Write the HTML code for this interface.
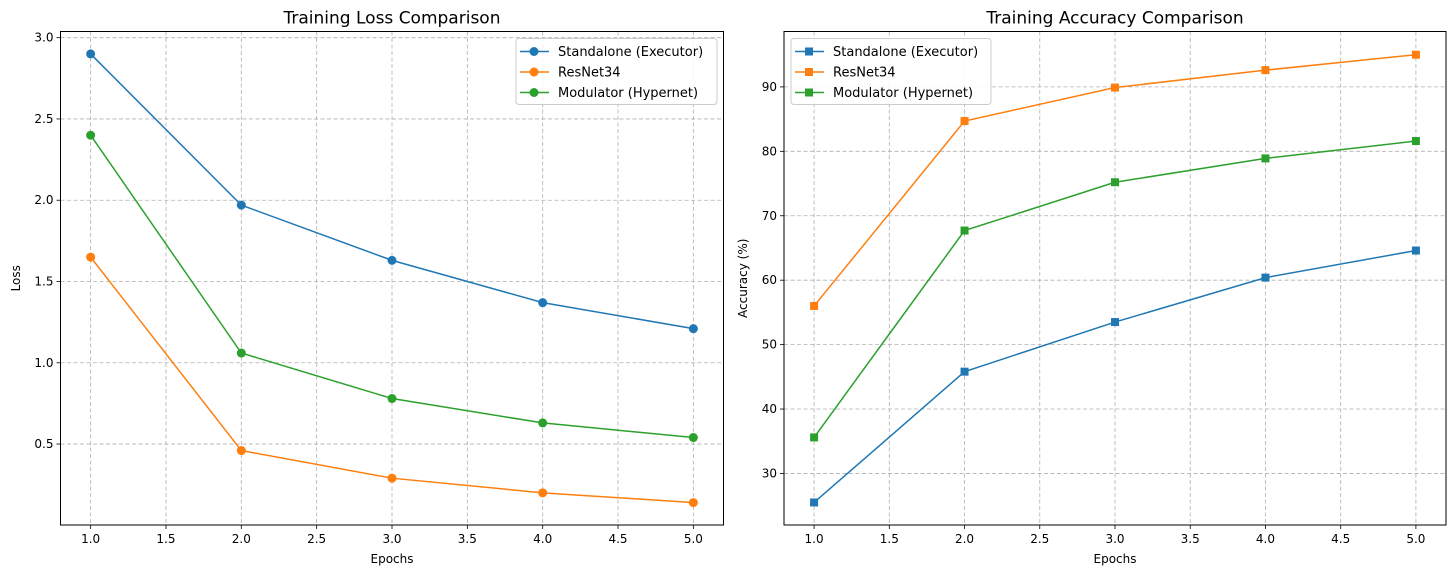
<!DOCTYPE html>
<html><head><meta charset="utf-8"><style>
body{margin:0;background:#fff;font-family:"Liberation Sans","DejaVu Sans",sans-serif}
svg text{font-family:"DejaVu Sans","Liberation Sans",sans-serif}
</style></head><body>
<svg id="c" width="1456" height="577" xmlns="http://www.w3.org/2000/svg"></svg>
<script>
const epochs=[1,2,3,4,5];
const lossStandalone=[2.90,1.97,1.63,1.37,1.21];
const lossResNet=[1.65,0.46,0.29,0.20,0.14];
const lossModulator=[2.40,1.06,0.78,0.63,0.54];
const accStandalone=[25.5,45.8,53.5,60.4,64.6];
const accResNet=[56.0,84.7,89.9,92.6,95.0];
const accModulator=[35.6,67.7,75.2,78.9,81.6];
const xTicks=[1.0,1.5,2.0,2.5,3.0,3.5,4.0,4.5,5.0];
const lossTicks=[0.5,1.0,1.5,2.0,2.5,3.0];
const accTicks=[30,40,50,60,70,80,90];
const seriesNames=["Standalone (Executor)","ResNet34","Modulator (Hypernet)"];
const colors=["#1f77b4","#ff7f0e","#2ca02c"];
const NS="http://www.w3.org/2000/svg";
const svg=document.getElementById('c');
function el(t,a,p){const e=document.createElementNS(NS,t);for(const k in a)e.setAttribute(k,a[k]);(p||svg).appendChild(e);return e;}
function panel(o){
  const g=el('g',{});
  
  
  const xmin=0.8,xmax=5.2;
  const X=v=>o.L+(v-xmin)/(xmax-xmin)*(o.R-o.L);
  const Y=v=>o.B-(v-o.ymin)/(o.ymax-o.ymin)*(o.B-o.T);
  xTicks.forEach(t=>{
    const l=el('line',{x1:X(t),x2:X(t),y1:o.T,y2:o.B,stroke:'#b0b0b0','stroke-dasharray':'4,2.5','stroke-width':0.8},g);
    
    el('line',{x1:X(t),x2:X(t),y1:o.B,y2:o.B+4,stroke:'#000','stroke-width':0.8},g);
    const tx=el('text',{x:X(t),y:o.B+18,'text-anchor':'middle','font-size':12},g);tx.textContent=t.toFixed(1);
    
  });
  o.ticks.forEach(t=>{
    const l=el('line',{x1:o.L,x2:o.R,y1:Y(t),y2:Y(t),stroke:'#b0b0b0','stroke-dasharray':'4,2.5','stroke-width':0.8},g);
    
    el('line',{x1:o.L-4,x2:o.L,y1:Y(t),y2:Y(t),stroke:'#000','stroke-width':0.8},g);
    const tx=el('text',{x:o.L-7,y:Y(t)+4,'text-anchor':'end','font-size':12},g);tx.textContent=o.fmt(t);
    
  });
  o.series.forEach((s,i)=>{
    const pl=el('polyline',{points:s.map((v,j)=>X(epochs[j])+','+Y(v)).join(' '),fill:'none',stroke:colors[i],'stroke-width':1.5},g);
    
    s.forEach((v,j)=>{
      let m;
      if(o.marker==='o')m=el('circle',{cx:X(epochs[j]),cy:Y(v),r:4.5,fill:colors[i]},g);
      else m=el('rect',{x:X(epochs[j])-4,y:Y(v)-4,width:8,height:8,fill:colors[i]},g);
      
    });
  });
  const fr=el('rect',{x:o.L,y:o.T,width:o.R-o.L,height:o.B-o.T,fill:'none',stroke:'#000','stroke-width':1},g);
  
  const ti=el('text',{x:(o.L+o.R)/2,y:o.T-8,'text-anchor':'middle','font-size':17},g);ti.textContent=o.title;
  
  const xl=el('text',{x:(o.L+o.R)/2,y:o.B+38,'text-anchor':'middle','font-size':12},g);xl.textContent='Epochs';
  
  const yl=el('text',{x:o.ylx,y:(o.T+o.B)/2,'text-anchor':'middle','font-size':12,transform:'rotate(-90 '+o.ylx+' '+(o.T+o.B)/2+')'},g);yl.textContent=o.ylabel;
  
  const lg=el('g',{},g);
  
  el('rect',{x:o.lgx,y:o.T+7,width:o.lgw,height:66,rx:3,fill:'#fff','fill-opacity':0.85,stroke:'#ccc'},lg);
  seriesNames.forEach((n,i)=>{
    const yy=o.T+20+i*20.5;
    const e=el('g',{},lg);
    
    el('line',{x1:o.lgx+4,x2:o.lgx+33,y1:yy,y2:yy,stroke:colors[i],'stroke-width':1.5},e);
    if(o.marker==='o')el('circle',{cx:o.lgx+18,cy:yy,r:4.5,fill:colors[i]},e);
    else el('rect',{x:o.lgx+14,y:yy-4,width:8,height:8,fill:colors[i]},e);
    const t=el('text',{x:o.lgx+42,y:yy+4.5,'font-size':13},e);t.textContent=n;
  });
}
panel({name:'loss-chart',L:60.5,R:723.5,T:31.5,B:525,ymin:0.002,ymax:3.038,ticks:lossTicks,fmt:t=>t.toFixed(1),
  series:[lossStandalone,lossResNet,lossModulator],marker:'o',title:'Training Loss Comparison',ylabel:'Loss',ylx:20,lgx:516,lgw:201});
panel({name:'accuracy-chart',L:784,R:1446,T:31.5,B:525,ymin:22.0,ymax:98.6,ticks:accTicks,fmt:t=>String(t),
  series:[accStandalone,accResNet,accModulator],marker:'s',title:'Training Accuracy Comparison',ylabel:'Accuracy (%)',ylx:747,lgx:791,lgw:200});
</script>
</body></html>
